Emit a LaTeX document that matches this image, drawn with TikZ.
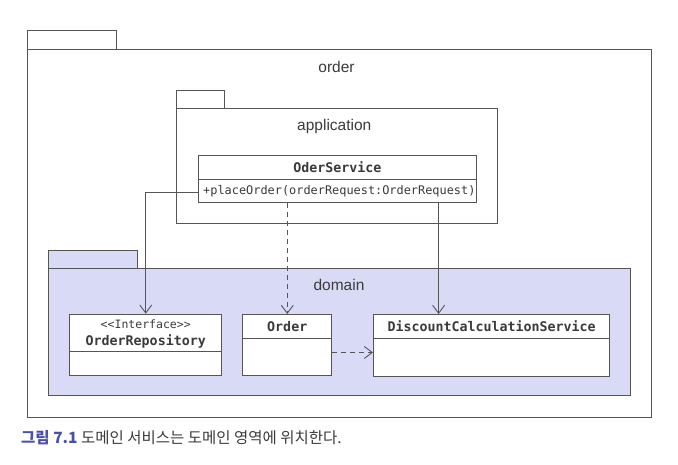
\documentclass[tikz,border=0pt]{standalone}
\usepackage{fontspec}
\setmainfont{Liberation Sans}
\newfontfamily\monof{DejaVu Sans Mono}
\newfontfamily\krf{Noto Sans CJK KR}
\usetikzlibrary{arrows.meta}
\definecolor{linec}{HTML}{555555}
\definecolor{domfill}{HTML}{D9DBF6}
\definecolor{capblue}{HTML}{4A50A8}
\definecolor{txt}{HTML}{3A3A3A}
\begin{document}
\begin{tikzpicture}[x=1pt,y=-1pt,
  pkg/.style={draw=linec,line width=0.9pt},
  box/.style={draw=linec,line width=0.9pt,fill=white,rectangle,inner sep=0pt,anchor=north west},
  pkglabel/.style={font=\fontsize{15.5}{16}\selectfont,text=txt},
  cname/.style={font=\monof\bfseries\fontsize{13.3}{14}\selectfont,text=txt},
  mname/.style={font=\monof\fontsize{11.9}{13}\selectfont,text=txt},
  conn/.style={draw=linec,line width=0.9pt,-{Straight Barb[length=8pt,width=12pt,line width=0.9pt]}},
]
\useasboundingbox (0,0) rectangle (678,465);
% order package
\draw[pkg] (27.3,30.7) rectangle (116.3,49);
\draw[pkg] (27.3,49) rectangle (651.3,417.5);
\node[pkglabel] (lorder) at (336.5,67) {order};
% application package
\draw[pkg] (176.7,90.7) rectangle (224.3,108.7);
\draw[pkg] (176.7,108.7) rectangle (497,223);
\node[pkglabel] (lapp) at (334.3,126.7) {application};
% OderService
\node[box,minimum width=278.3pt,minimum height=24pt] (svc) at (197.7,154.7) {};
\node[cname] at (svc.center) {OderService};
\node[box,minimum width=278.3pt,minimum height=23.3pt] (svcm) at (197.7,178.7) {};
\node[mname,anchor=west] at ([xshift=2pt]svcm.west) {+placeOrder(orderRequest:OrderRequest)};
% domain package
\draw[pkg,fill=domfill] (48.7,250.3) rectangle (137.3,268);
\draw[pkg,fill=domfill] (48.7,268) rectangle (630.7,395.7);
\node[pkglabel] (ldom) at (339,285) {domain};
% OrderRepository
\node[box,minimum width=152pt,minimum height=37.6pt] (repo) at (69.3,313.7) {};
\node[mname,font=\monof\fontsize{11.5}{12}\selectfont] at ([yshift=9pt]repo.center) {<{}<Interface>{}>};
\node[cname] at ([yshift=-8.5pt]repo.center) {OrderRepository};
\node[box,minimum width=152pt,minimum height=23.7pt] (repom) at (69.3,351.3) {};
% Order
\node[box,minimum width=89pt,minimum height=23.7pt] (ord) at (242.3,314) {};
\node[cname] at (ord.center) {Order};
\node[box,minimum width=89pt,minimum height=37.6pt] (ordm) at (242.3,337.7) {};
% DiscountCalculationService
\node[box,minimum width=236.3pt,minimum height=24pt] (disc) at (373,314) {};
\node[cname] at (disc.center) {DiscountCalculationService};
\node[box,minimum width=236.3pt,minimum height=38pt] (discm) at (373,338) {};
% connectors
\draw[conn] ([yshift=-1.6pt]svcm.west) -| (repo.north);
\draw[conn,dashed,dash pattern=on 5pt off 4pt] (svcm.south -| ord.north) -- (ord.north);
\coordinate (dstart) at ([xshift=-38.3pt]svcm.south east);
\draw[conn] (dstart) -- (dstart |- disc.north);
\draw[conn,dashed,dash pattern=on 5pt off 4pt] ([yshift=4.5pt]ordm.east) -- ([yshift=4.5pt]ordm.east -| discm.west);
% caption
\node[anchor=west,inner sep=0pt,font=\krf\fontsize{15.5}{17}\selectfont,text=txt] (cap) at (21,438)
  {{\color{capblue}\bfseries 그림 7.1} 도메인 서비스는 도메인 영역에 위치한다.};
\end{tikzpicture}
\end{document}
